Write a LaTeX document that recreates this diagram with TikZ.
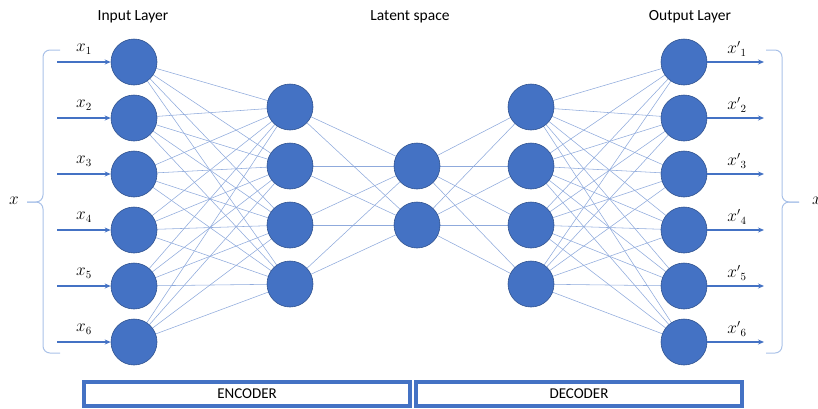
\documentclass[tikz,border=0pt]{standalone}
\usepackage{fontspec}
\setmainfont{Carlito}
\usetikzlibrary{arrows.meta,backgrounds}
\definecolor{nodeblue}{HTML}{4472C4}
\definecolor{edgeblue}{HTML}{2F528F}
\definecolor{linkblue}{HTML}{8FAADC}
\definecolor{bracecol}{HTML}{A9C1E8}
\begin{document}
\begin{tikzpicture}[x=1pt,y=-1pt,
  neuron/.style={circle,fill=nodeblue,draw=edgeblue,line width=0.6pt,minimum size=46pt,inner sep=0pt},
  link/.style={draw=linkblue,line width=0.55pt},
  inarrow/.style={draw=nodeblue,line width=1.8pt,-{Stealth[length=6pt,width=5pt]}},
  brc/.style={draw=bracecol,line width=1pt,rounded corners=7pt},
  title/.style={font=\fontsize{15.5}{18}\selectfont},
  lbl/.style={font=\fontsize{16}{18}\selectfont},
  partbox/.style={draw=nodeblue,line width=4pt,fill=white},
  parttext/.style={font=\fontsize{15}{17}\selectfont}]
\useasboundingbox (0,0) rectangle (818,408);

% titles
\node[title] (tin) at (133,17) {Input Layer};
\node[title] (tlat) at (410,17) {Latent space};
\node[title] (tout) at (690,17) {Output Layer};

% neurons
\foreach \k/\y in {1/62,2/118,3/174,4/230,5/286,6/342} {
  \node[neuron] (i\k) at (134,\y) {};
  \node[neuron] (o\k) at (684,\y) {};
}
\foreach \k/\y in {1/107,2/166,3/225,4/284} {
  \node[neuron] (e\k) at (290,\y) {};
  \node[neuron] (d\k) at (531,\y) {};
}
\node[neuron] (l1) at (417,166) {};
\node[neuron] (l2) at (417,225) {};

% links
\begin{scope}[on background layer]
\foreach \a in {1,...,6} \foreach \b in {1,...,4} {
  \draw[link] (i\a.center) -- (e\b.center);
  \draw[link] (d\b.center) -- (o\a.center);
}
\foreach \a in {1,...,4} \foreach \b in {1,2} {
  \draw[link] (e\a.center) -- (l\b.center);
  \draw[link] (l\b.center) -- (d\a.center);
}
\end{scope}

% input/output arrows and labels
\foreach \k/\y in {1/62,2/118,3/174,4/230,5/286,6/342} {
  \coordinate (ia\k) at (57,\y);
  \draw[inarrow] (ia\k) -- (i\k.west);
  \node[lbl] (il\k) at (84,\y-13) {$x_{\k}$};
  \coordinate (oa\k) at (764,\y);
  \draw[inarrow] (o\k.east) -- (oa\k);
  \node[lbl] (ol\k) at (737,\y-13) {${x'}_{\k}$};
}

% braces
\draw[brc] (60,50) -- (43,50) -- (43,202) -- (27,202);
\draw[brc] (27,202) -- (43,202) -- (43,353) -- (60,353);
\draw[brc] (766,50) -- (782,50) -- (782,202) -- (799,202);
\draw[brc] (799,202) -- (782,202) -- (782,353) -- (766,353);
\node[lbl] (xl) at (14,201) {$x$};
\node[lbl,anchor=west,inner sep=0pt] (xr) at (812,201) {$x$};

% encoder / decoder boxes
\draw[partbox] (84,382) rectangle (410,406);
\node[parttext] (enc) at (247,394) {ENCODER};
\draw[partbox] (416,382) rectangle (742,406);
\node[parttext] (dec) at (579,394) {DECODER};
\end{tikzpicture}
\end{document}
